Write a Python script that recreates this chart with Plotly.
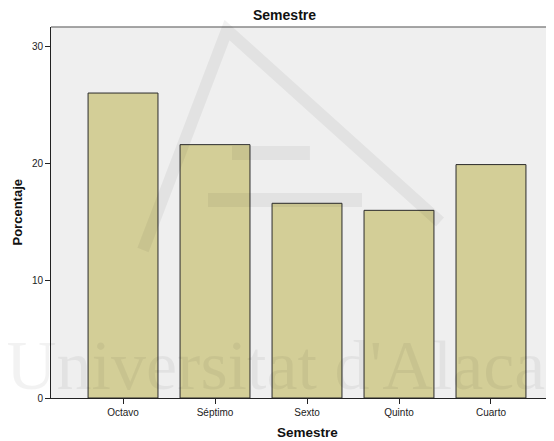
import plotly.graph_objects as go

categories = ["Octavo", "Séptimo", "Sexto", "Quinto", "Cuarto"]
percentages = [26.0, 21.6, 16.6, 16.0, 19.9]
y_ticks = [0, 10, 20, 30]

# the page body has an 8px margin, so the figure is offset by 8px
OFF = 8
W, H = 554 - OFF, 441 - OFF
L, R, T = 51 - OFF, 0, 27 - OFF
B = H - (398 - OFF)
PW, PH = W - L - R, H - T - B


def px_x(x):
    return (x - OFF - L) / PW


def px_y(y):
    return 1 - (y - OFF - T) / PH


def wm_path(points):
    return "M " + " L ".join(f"{px_x(x):.4f},{px_y(y):.4f}" for x, y in points)


fig = go.Figure()
fig.add_trace(go.Bar(
    x=categories, y=percentages,
    marker=dict(color="#d3ce97", line=dict(color="#2b2b2b", width=1)),
    width=0.76,
    hoverinfo="x+y",
))

font = "Liberation Sans, Arial, sans-serif"
wm_color = "rgba(0,0,0,0.05)"

fig.update_layout(
    width=W, height=H,
    margin=dict(l=L, r=R, t=T, b=B, pad=0),
    paper_bgcolor="white",
    plot_bgcolor="#efefef",
    showlegend=False,
    font=dict(family=font, size=10, color="#222222"),
    xaxis=dict(
        type="category", range=[-0.783, 4.685],
        showline=True, linecolor="#222222", linewidth=1,
        ticks="outside", ticklen=5, tickcolor="#222222",
        showgrid=False, zeroline=False,
        tickfont=dict(size=10, family=font, color="#222222"),
        title=None,
    ),
    yaxis=dict(
        range=[0, 31.63], tickvals=y_ticks,
        showline=True, linecolor="#222222", linewidth=1,
        ticks="outside", ticklen=5, tickcolor="#222222",
        showgrid=False, zeroline=False,
        tickfont=dict(size=10, family=font, color="#222222"),
        title=None,
    ),
    shapes=[
        dict(type="line", xref="paper", yref="paper", x0=0, x1=1, y0=1, y1=1,
             line=dict(color="#888888", width=1.5)),
        # faint watermark logo
        dict(type="path", xref="paper", yref="paper", layer="above",
             path=wm_path([(143, 250), (227, 30), (440, 222)]),
             line=dict(color=wm_color, width=12)),
        dict(type="path", xref="paper", yref="paper", layer="above",
             path=wm_path([(232, 153), (310, 153)]),
             line=dict(color=wm_color, width=14)),
        dict(type="path", xref="paper", yref="paper", layer="above",
             path=wm_path([(208, 200), (362, 200)]),
             line=dict(color=wm_color, width=14)),
    ],
    annotations=[
        dict(text="Universitat d'Alacant", xref="paper", yref="paper",
             x=px_x(4), y=px_y(406),
             showarrow=False, xanchor="left", yanchor="bottom",
             font=dict(size=70, family="Liberation Serif, DejaVu Serif, serif",
                       color=wm_color)),
        dict(text="<b>Semestre</b>", xref="paper", yref="paper",
             x=px_x(284), y=px_y(15),
             showarrow=False, xanchor="center", yanchor="middle",
             font=dict(size=14, family=font, color="#111111")),
        dict(text="<b>Semestre</b>", xref="paper", yref="paper",
             x=px_x(307), y=px_y(432),
             showarrow=False, xanchor="center", yanchor="middle",
             font=dict(size=13.5, family=font, color="#111111")),
        dict(text="<b>Porcentaje</b>", xref="paper", yref="paper",
             x=px_x(17), y=0.5, textangle=-90,
             showarrow=False, xanchor="center", yanchor="middle",
             font=dict(size=13, family=font, color="#111111")),
    ],
)

fig.write_html("out.html")
